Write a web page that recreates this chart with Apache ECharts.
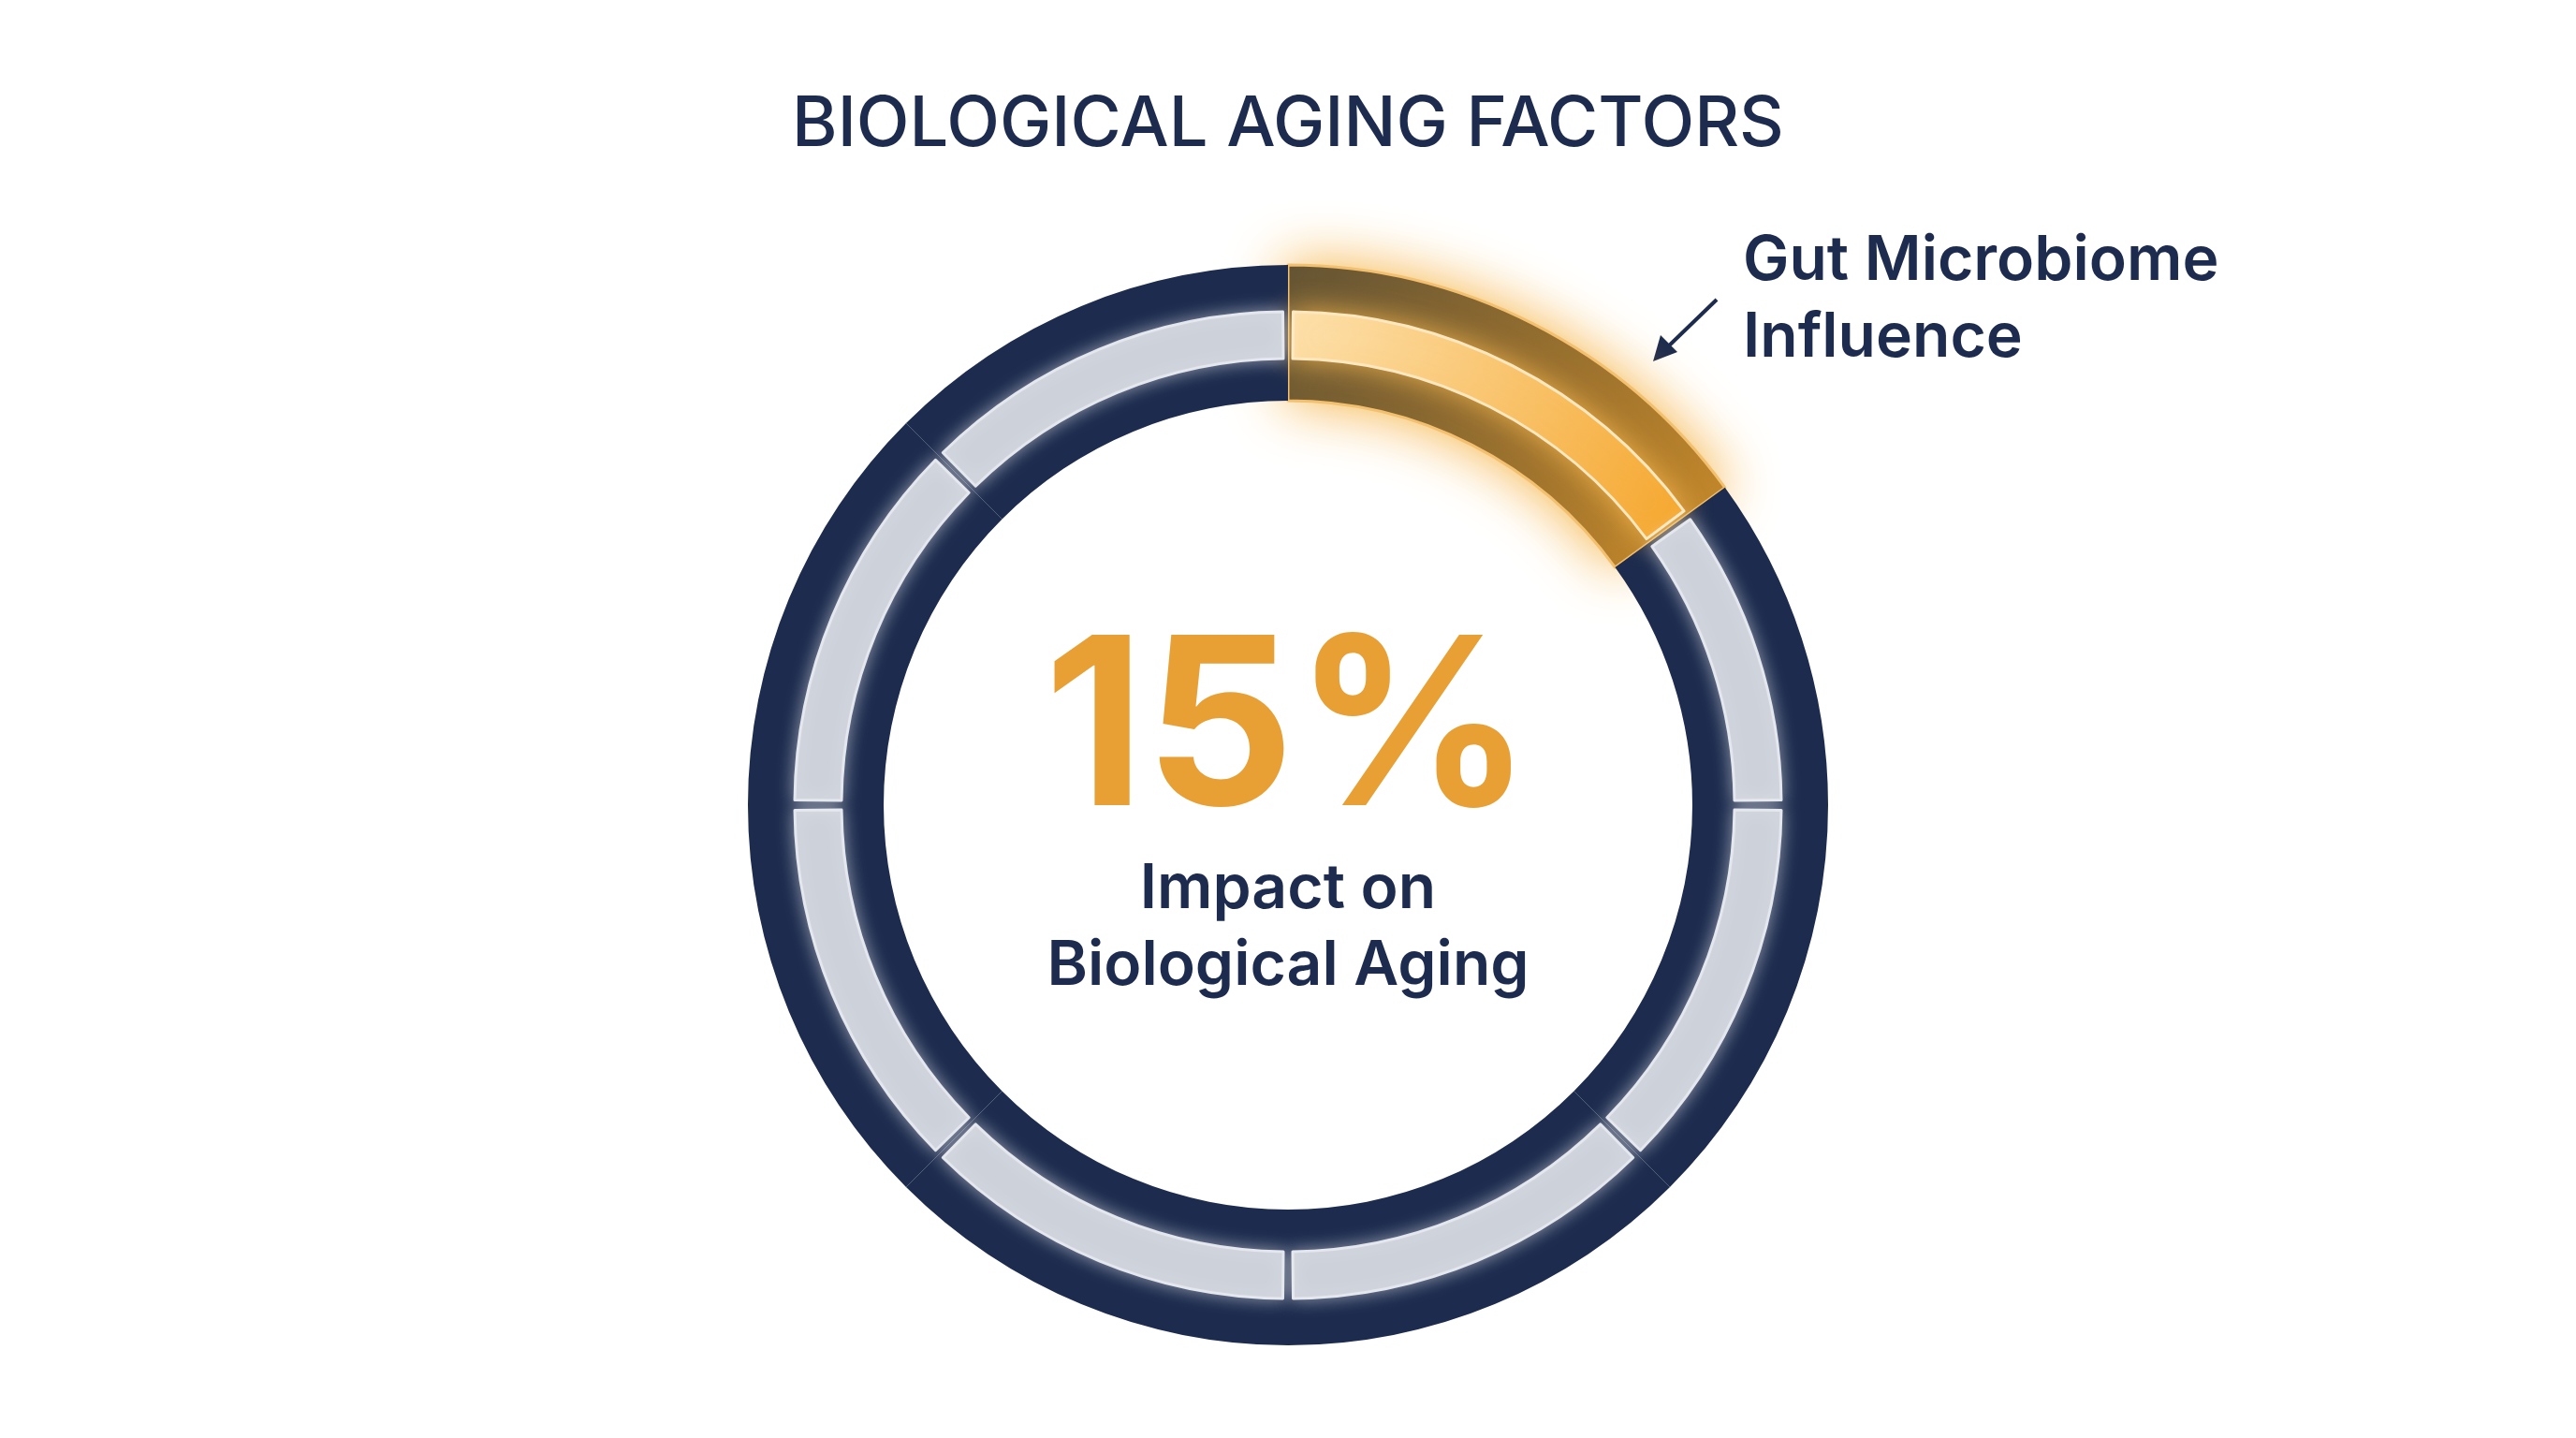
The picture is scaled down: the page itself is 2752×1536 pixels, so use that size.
<!DOCTYPE html>
<html><head><meta charset="utf-8">
<script src="https://cdn.jsdelivr.net/npm/echarts@6/dist/echarts.min.js"></script>
<style>html,body{margin:0;padding:0;background:#fff}#c{width:2752px;height:1536px}</style>
</head><body><div id="c"></div>
<script>
const categories = ['Gut Microbiome Influence','Factor B','Factor C','Factor D','Factor E','Factor F','Factor G','Factor H'];
const values = [15, 10, 12.5, 12.5, 12.5, 12.5, 12.5, 12.5];
const highlightValue = '15%';
const centerLabel = ['Impact on', 'Biological Aging'];
const titleText = 'BIOLOGICAL AGING FACTORS';

const navy = '#1c2b4e';
const chart = echarts.init(document.getElementById('c'));
const outerData = categories.map((n, i) => ({
  name: n, value: values[i],
  itemStyle: i === 0 ? {
    color: new echarts.graphic.LinearGradient(0, 0, 1, 1, [{offset: 0, color: '#5e5136'}, {offset: 1, color: '#c98a2a'}]),
    shadowBlur: 60, shadowColor: 'rgba(245,166,35,0.85)', borderColor: '#f3c070', borderWidth: 3
  } : {color: navy, shadowBlur: 0}
}));
const innerData = categories.map((n, i) => ({
  name: n, value: values[i],
  itemStyle: i === 0 ? {
    color: new echarts.graphic.LinearGradient(0, 0, 1, 1, [{offset: 0, color: '#fde3b2'}, {offset: 1, color: '#f5a52a'}]),
    borderColor: '#ffe8c0', borderWidth: 3, shadowBlur: 30, shadowColor: 'rgba(255,190,80,0.8)'
  } : {color: '#cdd1da', borderColor: '#e4e7ee', borderWidth: 3, shadowBlur: 18, shadowColor: 'rgba(255,255,255,0.5)'}
}));
chart.setOption({
  backgroundColor: '#ffffff',
  title: {text: titleText, left: 'center', top: 92,
    textStyle: {fontFamily: 'Inter', fontSize: 74, fontWeight: 500, color: navy}},
  series: [
    {type: 'pie', radius: [432, 577], center: [1376, 860], startAngle: 90, clockwise: true,
     silent: true, label: {show: false}, labelLine: {show: false}, data: outerData,
     itemStyle: {shadowBlur: 30, shadowColor: 'rgba(28,43,78,0.35)'}},
    {type: 'pie', radius: [477, 527], center: [1376, 860], startAngle: 90, clockwise: true,
     padAngle: 1.2, silent: true, label: {show: false}, labelLine: {show: false}, data: innerData}
  ],
  graphic: [
    {type: 'text', left: 'center', top: 660, style: {text: highlightValue, fontFamily: 'Inter', fontSize: 250, fontWeight: 700, fill: '#e8a035'}},
    {type: 'text', x: 1376, y: 950, style: {text: centerLabel[0], align: 'center', verticalAlign: 'middle', fontFamily: 'Inter', fontSize: 66, fontWeight: 600, fill: navy}},
    {type: 'text', x: 1376, y: 1032, style: {text: centerLabel[1], align: 'center', verticalAlign: 'middle', fontFamily: 'Inter', fontSize: 66, fontWeight: 600, fill: navy}},
    {type: 'text', x: 1862, y: 320, style: {text: 'Gut Microbiome\nInfluence', verticalAlign: 'middle', lineHeight: 82, fontFamily: 'Inter', fontSize: 66, fontWeight: 600, fill: navy}},
    {type: 'line', shape: {x1: 1834, y1: 320, x2: 1776, y2: 376}, style: {stroke: navy, lineWidth: 4}},
    {type: 'polygon', shape: {points: [[1766, 386], [1774, 358], [1792, 376]]}, style: {fill: navy}}
  ]
});
</script></body></html>
